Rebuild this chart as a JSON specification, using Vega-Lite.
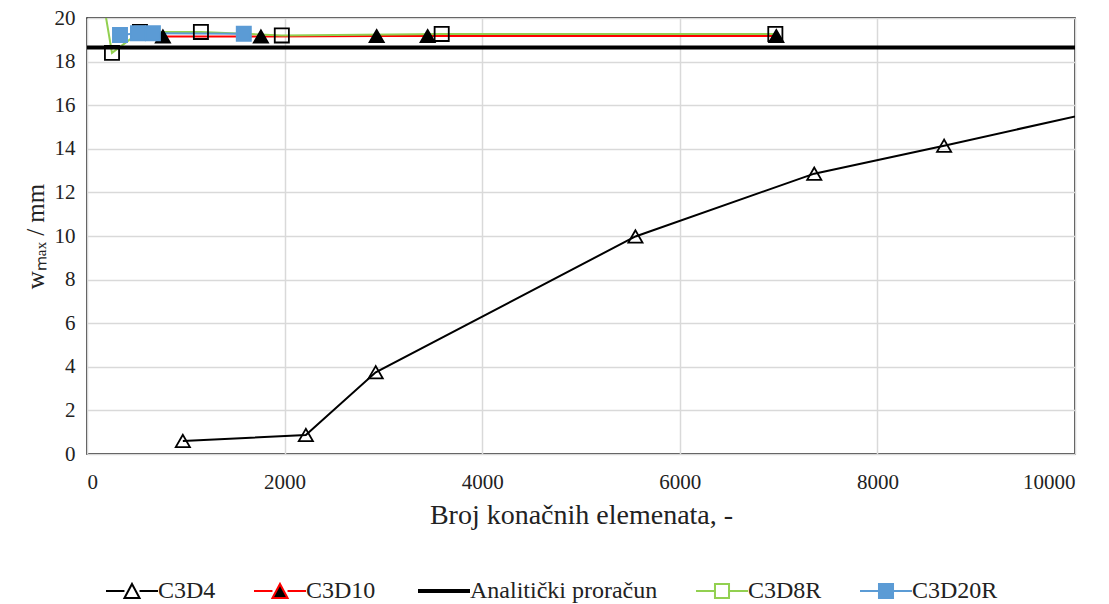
{
  "$schema": "https://vega.github.io/schema/vega-lite/v6.json",
  "width": 988,
  "height": 436,
  "autosize": {"type": "none"},
  "padding": {"left": 87, "top": 18, "right": 34, "bottom": 150},
  "background": "white",
  "config": {
    "font": "Liberation Serif",
    "view": {"stroke": "black", "strokeWidth": 1.5},
    "axis": {"gridColor": "#d9d9d9", "gridWidth": 1.5, "domain": false, "ticks": false},
    "legend": {"labelFont": "Liberation Serif", "labelFontSize": 24, "labelColor": "#222", "labelLimit": 400}
  },
  "data": {"values": [
    {"series": "C3D4", "n": 970, "w": 0.6},
    {"series": "C3D4", "n": 2215, "w": 0.87},
    {"series": "C3D4", "n": 2922, "w": 3.75},
    {"series": "C3D4", "n": 5551, "w": 9.98},
    {"series": "C3D4", "n": 7361, "w": 12.86},
    {"series": "C3D4", "n": 8675, "w": 14.14},
    {"series": "C3D4", "n": 11000, "w": 16.5},
    {"series": "C3D10", "n": 768, "w": 19.15},
    {"series": "C3D10", "n": 1760, "w": 19.15},
    {"series": "C3D10", "n": 2932, "w": 19.17},
    {"series": "C3D10", "n": 3448, "w": 19.17},
    {"series": "C3D10", "n": 6977, "w": 19.17},
    {"series": "Analitički proračun", "n": 0, "w": 18.65},
    {"series": "Analitički proračun", "n": 10000, "w": 18.65},
    {"series": "C3D8R", "n": 100, "w": 22.5},
    {"series": "C3D8R", "n": 253, "w": 18.4},
    {"series": "C3D8R", "n": 536, "w": 19.36},
    {"series": "C3D8R", "n": 1153, "w": 19.36},
    {"series": "C3D8R", "n": 1972, "w": 19.2},
    {"series": "C3D8R", "n": 3590, "w": 19.27},
    {"series": "C3D8R", "n": 6967, "w": 19.27},
    {"series": "C3D20R", "n": 334, "w": 19.22},
    {"series": "C3D20R", "n": 516, "w": 19.3},
    {"series": "C3D20R", "n": 667, "w": 19.3},
    {"series": "C3D20R", "n": 1587, "w": 19.28}
  ]},
  "encoding": {
    "x": {"field": "n", "type": "quantitative", "scale": {"domain": [0, 10000], "nice": false}, "axis": {"values": [0, 2000, 4000, 6000, 8000, 10000], "format": "d", "title": "Broj konačnih elemenata, -", "labelFont": "Liberation Serif", "labelFontSize": 21, "labelColor": "#222", "titleFont": "Liberation Serif", "titleFontSize": 28, "titleFontWeight": "normal", "titleColor": "#222", "labelPadding": 17, "titlePadding": 9}},
    "y": {"field": "w", "type": "quantitative", "scale": {"domain": [0, 20], "nice": false}, "axis": {"values": [0, 2, 4, 6, 8, 10, 12, 14, 16, 18, 20], "title": "wₘₐₓ / mm", "labelFont": "Liberation Serif", "labelFontSize": 21, "labelColor": "#222", "titleFont": "Liberation Serif", "titleFontSize": 25, "titleFontWeight": "normal", "titleColor": "#222", "labelPadding": 12, "titlePadding": 6}}
  },
  "layer": [
    {
      "transform": [{"filter": "datum.series != 'Analitički proračun'"}],
      "mark": {"type": "line", "clip": true, "strokeWidth": 2},
      "encoding": {
        "detail": {"field": "series"},
        "color": {"field": "series", "type": "nominal",
          "scale": {"domain": ["C3D4", "C3D10", "Analitički proračun", "C3D8R", "C3D20R"], "range": ["#000000", "#ff0000", "#000000", "#92d050", "#5b9bd5"]},
          "legend": {"title": null, "orient": "none", "legendX": 33, "legendY": 561, "direction": "horizontal", "columns": 5, "symbolSize": 2704, "symbolStrokeWidth": 2.5, "columnPadding": 34, "labelOffset": 14,
            "encode": {"symbols": {"update": {
              "shape": {"signal": "datum.value == 'C3D4' || datum.value == 'C3D10' ? 'M-1,0H-0.29M0.29,0H1M0,-0.27L0.29,0.27L-0.29,0.27Z' : datum.value == 'C3D8R' || datum.value == 'C3D20R' ? 'M-1,0H-0.27M0.27,0H1M-0.27,-0.27H0.27V0.27H-0.27Z' : 'M-1,0H1'"},
              "fill": {"signal": "datum.value == 'C3D10' ? 'black' : datum.value == 'C3D20R' ? '#5b9bd5' : 'transparent'"},
              "stroke": {"signal": "datum.value == 'C3D10' ? '#ff0000' : datum.value == 'C3D8R' ? '#92d050' : datum.value == 'C3D20R' ? '#5b9bd5' : 'black'"},
              "strokeWidth": {"signal": "datum.value == 'Analitički proračun' ? 4 : 2"}
            }}}
          }}
      }
    },
    {
      "transform": [{"filter": "datum.series == 'Analitički proračun'"}],
      "mark": {"type": "line", "clip": true, "strokeWidth": 4},
      "encoding": {
        "color": {"field": "series", "type": "nominal"}
      }
    },
    {
      "transform": [{"filter": "datum.series != 'Analitički proračun'"}],
      "mark": {"type": "point", "clip": true, "filled": false, "size": 200, "strokeWidth": 1.8, "opacity": 1},
      "encoding": {
        "shape": {"field": "series", "type": "nominal", "scale": {"domain": ["C3D4", "C3D10", "C3D8R", "C3D20R"], "range": ["triangle-up", "triangle-up", "square", "square"]}, "legend": null},
        "fill": {"field": "series", "type": "nominal", "scale": {"domain": ["C3D4", "C3D10", "C3D8R", "C3D20R"], "range": ["transparent", "#000000", "transparent", "#5b9bd5"]}, "legend": null},
        "stroke": {"field": "series", "type": "nominal", "scale": {"domain": ["C3D4", "C3D10", "C3D8R", "C3D20R"], "range": ["#000000", "#000000", "#000000", "#5b9bd5"]}, "legend": null}
      }
    }
  ]
}
